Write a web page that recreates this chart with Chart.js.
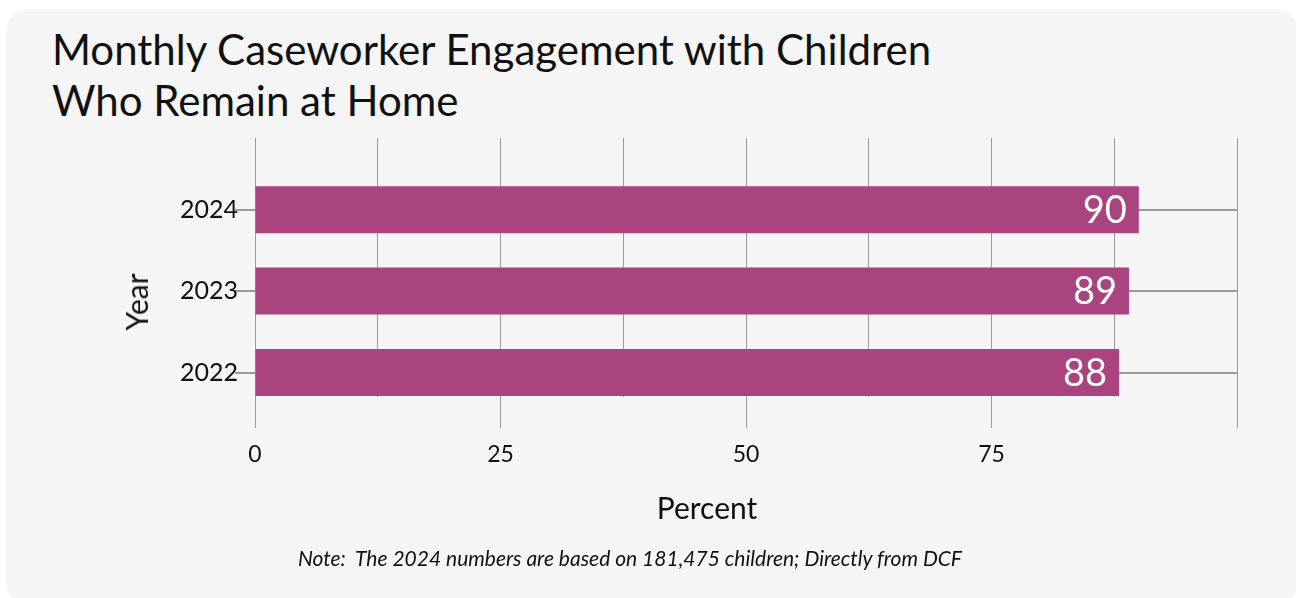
<!DOCTYPE html>
<html>
<head>
<meta charset="utf-8">
<title>Monthly Caseworker Engagement with Children Who Remain at Home</title>
<script src="https://cdn.jsdelivr.net/npm/chart.js@4.4.1/dist/chart.umd.min.js"></script>
<style>
  html, body { margin: 0; padding: 0; background: #ffffff; width: 1296px; height: 598px; overflow: hidden; font-family: Lato, "Open Sans", sans-serif; color: #111; }
  #card { position: absolute; left: 6px; top: 9px; width: 1292px; height: 596px; border-radius: 22px; background: #f5f5f5; }
  #title { position: absolute; left: 52px; top: 24px; margin: 0; font-size: 42px; line-height: 51px; font-weight: 400; color: #111; }
  .axis-title { position: absolute; font-size: 30px; line-height: 36px; white-space: nowrap; color: #111; }
  #xTitle { left: 707px; top: 507px; transform: translate(-50%, -50%); }
  #yTitle { left: 136px; top: 302px; transform: translate(-50%, -50%) rotate(-90deg); }
  #note { position: absolute; left: 630px; top: 557px; transform: translate(-50%, -50%); font-style: italic; font-size: 21px; white-space: pre; color: #111; }
  #chart { position: absolute; left: 0; top: 0; }
</style>
</head>
<body>
<div id="card"></div>
<h1 id="title">Monthly Caseworker Engagement with Children<br>Who Remain at Home</h1>
<canvas id="chart" width="1296" height="598"></canvas>
<div id="yTitle" class="axis-title">Year</div>
<div id="xTitle" class="axis-title">Percent</div>
<div id="note">Note:  The 2024 numbers are based on 181,475 children; Directly from DCF</div>
<script>
// Survey years (top to bottom) and the share of children seen monthly
const years = ['2024', '2023', '2022'];
const percents = [90, 89, 88];
// Percent axis: grid every 12.5, labels only on these values
const labeledTicks = [0, 25, 50, 75];

const BAR_COLOR = '#a9447f';
const GRID_COLOR = '#9a9a9a';

// White value text placed inside the end of each bar
const valueLabels = {
  id: 'valueLabels',
  afterDatasetsDraw(chart) {
    const { ctx } = chart;
    const meta = chart.getDatasetMeta(0);
    ctx.save();
    ctx.fillStyle = '#ffffff';
    ctx.font = '38px Lato';
    ctx.textAlign = 'right';
    ctx.textBaseline = 'middle';
    meta.data.forEach((bar, i) => {
      ctx.fillText(String(percents[i]), bar.x - 12, bar.y + 1);
    });
    ctx.restore();
  }
};

function draw() {
  Chart.defaults.font.family = 'Lato';
  Chart.defaults.color = '#111';

  new Chart(document.getElementById('chart'), {
    type: 'bar',
    data: {
      datasets: [{
        label: 'Percent',
        data: percents.map((v, i) => ({ x: v, y: i })),
        backgroundColor: BAR_COLOR,
        borderWidth: 0,
        categoryPercentage: 1,
        barPercentage: 0.577
      }]
    },
    options: {
      indexAxis: 'y',
      responsive: false,
      animation: false,
      devicePixelRatio: 1,
      layout: { padding: { top: 138, right: 59, bottom: 0, left: 0 } },
      plugins: {
        legend: { display: false },
        title: { display: false },
        tooltip: { enabled: false }
      },
      scales: {
        x: {
          type: 'linear',
          position: 'bottom',
          min: 0,
          max: 100,
          offset: false,
          border: { display: false },
          grid: {
            offset: false,
            color: GRID_COLOR,
            lineWidth: 1,
            drawTicks: true,
            tickLength: 31,
            tickColor: (c) => (c.tick && c.tick.value % 25 === 0 ? GRID_COLOR : 'rgba(0,0,0,0)')
          },
          ticks: {
            stepSize: 12.5,
            autoSkip: false,
            maxRotation: 0,
            padding: 13,
            font: { size: 23 },
            color: '#111',
            callback: (v) => (labeledTicks.includes(v) ? String(v) : '')
          },
          afterFit: (scale) => { scale.height = 201; }
        },
        y: {
          type: 'linear',
          reverse: true,
          min: -0.88,
          max: 2.3,
          offset: false,
          border: { display: false },
          grid: {
            offset: false,
            color: GRID_COLOR,
            lineWidth: 2,
            drawTicks: true,
            tickLength: 20,
            tickColor: GRID_COLOR
          },
          afterBuildTicks: (scale) => { scale.ticks = years.map((_, i) => ({ value: i })); },
          ticks: {
            autoSkip: false,
            padding: -3,
            font: { size: 25 },
            color: '#111',
            callback: (v) => (years[v] !== undefined ? years[v] : '')
          },
          afterFit: (scale) => { scale.width = 255; }
        }
      }
    },
    plugins: [valueLabels]
  });
}

if (document.fonts && document.fonts.load) {
  Promise.all([
    document.fonts.load('38px Lato'),
    document.fonts.load('25px Lato'),
    document.fonts.load('italic 21px Lato')
  ]).then(draw, draw);
} else {
  draw();
}
</script>
</body>
</html>
